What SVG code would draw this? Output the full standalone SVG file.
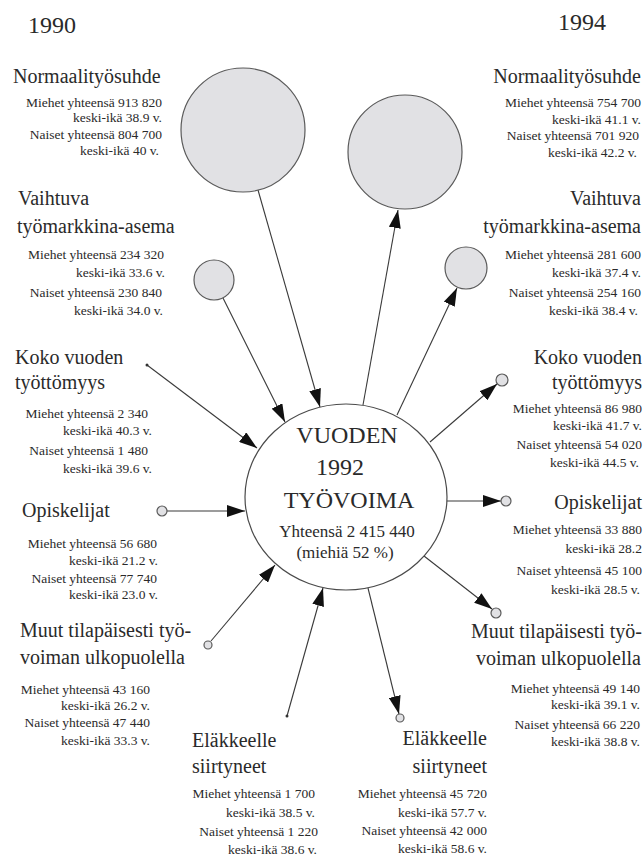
<svg xmlns="http://www.w3.org/2000/svg" width="643" height="859" viewBox="0 0 643 859" font-family="'Liberation Serif', 'Times New Roman', 'DejaVu Serif', serif">
<defs>
<style>
text{font-family:'Liberation Serif','Times New Roman','DejaVu Serif',serif;fill:#2a2a2a}
.yr{font-size:24px}
.hd{font-size:20px}
.sm{font-size:13.5px}
.e{text-anchor:end}
.m{text-anchor:middle}
.big{font-size:24px}
.mid{font-size:17px}
.bub{fill:#e1e1e4;stroke:#5a5a5a;stroke-width:1.2}
.cn line{stroke:#3a3a3a;stroke-width:1.1;fill:none}
.dot{fill:#333}
</style>
<marker id="ah" markerUnits="userSpaceOnUse" markerWidth="18" markerHeight="12" refX="18" refY="6" orient="auto">
<path d="M0,0 L18,6 L0,12 Z" fill="#111"/>
</marker>
</defs>
<rect width="643" height="859" fill="#fff"/>
<text class="yr" x="28" y="33">1990</text>
<text class="yr" x="558" y="30">1994</text>

<g id="connectors" class="cn">
<line x1="258" y1="190" x2="320" y2="407" marker-end="url(#ah)"/>
<line x1="223" y1="298" x2="285" y2="422" marker-end="url(#ah)"/>
<line x1="147" y1="365" x2="257" y2="448" marker-end="url(#ah)"/>
<line x1="167" y1="511" x2="245" y2="511" marker-end="url(#ah)"/>
<line x1="211" y1="641" x2="275" y2="565" marker-end="url(#ah)"/>
<line x1="287" y1="716" x2="323" y2="588" marker-end="url(#ah)"/>
<line x1="363" y1="405" x2="398" y2="210" marker-end="url(#ah)"/>
<line x1="397" y1="415" x2="457" y2="288" marker-end="url(#ah)"/>
<line x1="430" y1="442" x2="497" y2="384" marker-end="url(#ah)"/>
<line x1="447" y1="501" x2="501" y2="501" marker-end="url(#ah)"/>
<line x1="424" y1="556" x2="492" y2="609" marker-end="url(#ah)"/>
<line x1="368" y1="588" x2="399" y2="714" marker-end="url(#ah)"/>
<circle class="dot" cx="147" cy="365" r="1.5"/>
<circle class="dot" cx="287" cy="716" r="1.5"/>
</g>

<g id="center">
<ellipse cx="346" cy="497" rx="101" ry="93" fill="#fff" stroke="#4a4a4a" stroke-width="1.2"/>
<text class="big m" x="347" y="443">VUODEN</text>
<text class="big m" x="340" y="475">1992</text>
<text class="big m" x="349" y="508">TYÖVOIMA</text>
<text class="mid m" x="347" y="537">Yhteensä 2 415 440</text>
<text class="mid m" x="345" y="558">(miehiä 52 %)</text>
</g>

<g id="normaali-1990">
<circle class="bub" cx="243" cy="130" r="62"/>
<text class="hd" x="13" y="83">Normaalityösuhde</text>
<text class="sm e" x="162" y="107">Miehet yhteensä 913 820</text>
<text class="sm e" x="162" y="122">keski-ikä 38.9 v.</text>
<text class="sm e" x="162" y="139">Naiset yhteensä 804 700</text>
<text class="sm e" x="159" y="155">keski-ikä 40 v.</text>
</g>

<g id="vaihtuva-1990">
<circle class="bub" cx="214" cy="280" r="20"/>
<text class="hd" x="18" y="205">Vaihtuva</text>
<text class="hd" x="17" y="233">työmarkkina-asema</text>
<text class="sm e" x="164" y="259">Miehet yhteensä 234 320</text>
<text class="sm e" x="165" y="277">keski-ikä 33.6 v.</text>
<text class="sm e" x="162" y="297">Naiset yhteensä 230 840</text>
<text class="sm e" x="163" y="315">keski-ikä 34.0 v.</text>
</g>

<g id="koko-1990">
<text class="hd" x="15" y="364">Koko vuoden</text>
<text class="hd" x="15" y="389">työttömyys</text>
<text class="sm e" x="148" y="418">Miehet yhteensä 2 340</text>
<text class="sm e" x="152" y="435">keski-ikä 40.3 v.</text>
<text class="sm e" x="148" y="455">Naiset yhteensä 1 480</text>
<text class="sm e" x="152" y="473">keski-ikä 39.6 v.</text>
</g>

<g id="opiskelijat-1990">
<circle class="bub" cx="162" cy="511" r="5"/>
<text class="hd" x="22" y="517">Opiskelijat</text>
<text class="sm e" x="157" y="548">Miehet yhteensä 56 680</text>
<text class="sm e" x="158" y="565">keski-ikä 21.2 v.</text>
<text class="sm e" x="157" y="583">Naiset yhteensä 77 740</text>
<text class="sm e" x="158" y="599">keski-ikä 23.0 v.</text>
</g>

<g id="muut-1990">
<circle class="bub" cx="208" cy="645" r="4"/>
<text class="hd" x="20" y="637">Muut tilapäisesti työ-</text>
<text class="hd" x="20" y="664">voiman ulkopuolella</text>
<text class="sm e" x="150" y="694">Miehet yhteensä 43 160</text>
<text class="sm e" x="150" y="710">keski-ikä 26.2 v.</text>
<text class="sm e" x="150" y="727">Naiset yhteensä 47 440</text>
<text class="sm e" x="150" y="745">keski-ikä 33.3 v.</text>
</g>

<g id="elakkeelle-1990">
<text class="hd" x="192" y="747">Eläkkeelle</text>
<text class="hd" x="192" y="773">siirtyneet</text>
<text class="sm e" x="315" y="798">Miehet yhteensä 1 700</text>
<text class="sm e" x="315" y="817">keski-ikä 38.5 v.</text>
<text class="sm e" x="318" y="836">Naiset yhteensä 1 220</text>
<text class="sm e" x="317" y="854">keski-ikä 38.6 v.</text>
</g>

<g id="normaali-1994">
<circle class="bub" cx="405" cy="152" r="57"/>
<text class="hd e" x="641" y="83">Normaalityösuhde</text>
<text class="sm e" x="641" y="107">Miehet yhteensä 754 700</text>
<text class="sm e" x="641" y="124">keski-ikä 41.1 v.</text>
<text class="sm e" x="639" y="140">Naiset yhteensä 701 920</text>
<text class="sm e" x="637" y="157">keski-ikä 42.2 v.</text>
</g>

<g id="vaihtuva-1994">
<circle class="bub" cx="466" cy="268" r="21"/>
<text class="hd e" x="641" y="205">Vaihtuva</text>
<text class="hd e" x="641" y="233">työmarkkina-asema</text>
<text class="sm e" x="641" y="259">Miehet yhteensä 281 600</text>
<text class="sm e" x="641" y="277">keski-ikä 37.4 v.</text>
<text class="sm e" x="641" y="297">Naiset yhteensä 254 160</text>
<text class="sm e" x="638" y="315">keski-ikä 38.4 v.</text>
</g>

<g id="koko-1994">
<circle class="bub" cx="502" cy="380" r="6"/>
<text class="hd e" x="642" y="364">Koko vuoden</text>
<text class="hd e" x="642" y="389">työttömyys</text>
<text class="sm e" x="642" y="413">Miehet yhteensä 86 980</text>
<text class="sm e" x="642" y="430">keski-ikä 41.7 v.</text>
<text class="sm e" x="642" y="449">Naiset yhteensä 54 020</text>
<text class="sm e" x="639" y="467">keski-ikä 44.5 v.</text>
</g>

<g id="opiskelijat-1994">
<circle class="bub" cx="506" cy="501" r="5"/>
<text class="hd e" x="642" y="509">Opiskelijat</text>
<text class="sm e" x="642" y="534">Miehet yhteensä 33 880</text>
<text class="sm e" x="642" y="553">keski-ikä 28.2</text>
<text class="sm e" x="642" y="575">Naiset yhteensä 45 100</text>
<text class="sm e" x="640" y="594">keski-ikä 28.5 v.</text>
</g>

<g id="muut-1994">
<circle class="bub" cx="496" cy="613" r="5"/>
<text class="hd e" x="642" y="638">Muut tilapäisesti työ-</text>
<text class="hd e" x="641" y="665">voiman ulkopuolella</text>
<text class="sm e" x="640" y="693">Miehet yhteensä 49 140</text>
<text class="sm e" x="640" y="709">keski-ikä 39.1 v.</text>
<text class="sm e" x="640" y="729">Naiset yhteensä 66 220</text>
<text class="sm e" x="640" y="746">keski-ikä 38.8 v.</text>
</g>

<g id="elakkeelle-1994">
<circle class="bub" cx="400" cy="718" r="4"/>
<text class="hd e" x="487" y="745">Eläkkeelle</text>
<text class="hd e" x="487" y="773">siirtyneet</text>
<text class="sm e" x="487" y="798">Miehet yhteensä 45 720</text>
<text class="sm e" x="487" y="817">keski-ikä 57.7 v.</text>
<text class="sm e" x="487" y="835">Naiset yhteensä 42 000</text>
<text class="sm e" x="487" y="853">keski-ikä 58.6 v.</text>
</g>
</svg>
